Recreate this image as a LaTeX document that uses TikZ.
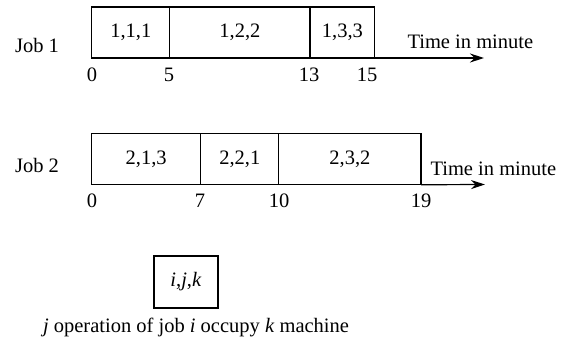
\documentclass[tikz,border=0pt]{standalone}
\usepackage{fontspec}
\setmainfont{Liberation Serif}
\usetikzlibrary{arrows.meta}
\begin{document}
\begin{tikzpicture}[x=1pt,y=-1pt,
  every node/.style={font=\fontsize{20.5}{24}\selectfont},
  cell/.style={draw,line width=1.2pt,rectangle,inner sep=0pt,outer sep=0pt,minimum height=51pt},
  tick/.style={anchor=center},
  axis/.style={line width=1.2pt,-{Stealth[length=14pt,width=9pt]}}]
\useasboundingbox (0,0) rectangle (565,340);
% Job 1 schedule
\node[anchor=base] (job1) at (37,52) {Job 1};
\node[cell,minimum width=78.1pt]  (c11) at (130.75,32.5) {1,1,1};
\node[cell,minimum width=140.2pt] (c12) at (239.9,32.5) {1,2,2};
\node[cell,minimum width=64.8pt]  (c13) at (342.4,32.5) {1,3,3};
\coordinate (e1) at (484,58);
\draw[axis] (c13.south east) -- (e1);
\node[anchor=base west] (t1) at (404,48) {Time in minute};
\node[tick] (n10) at (92,75) {0};
\node[tick] (n15) at (169,75) {5};
\node[tick] (n113) at (309,75) {13};
\node[tick] (n115) at (367,75) {15};
% Job 2 schedule
\node[anchor=base] (job2) at (37,172) {Job 2};
\node[cell,minimum width=109pt]   (c21) at (146.2,159.25) {2,1,3};
\node[cell,minimum width=78.1pt]  (c22) at (239.75,159.25) {2,2,1};
\node[cell,minimum width=142.2pt] (c23) at (349.9,159.25) {2,3,2};
\coordinate (e2) at (485,184.5);
\draw[axis] (c23.south east) -- (e2);
\node[anchor=base west] (t2) at (427,175) {Time in minute};
\node[tick] (n20) at (92,201) {0};
\node[tick] (n27) at (200,201) {7};
\node[tick] (n210) at (279,201) {10};
\node[tick] (n219) at (421,201) {19};
% Legend
\node[cell,minimum width=64pt,minimum height=52pt] (leg) at (186,282) {\textit{i},\textit{j},\textit{k}};
\node[anchor=base] (cap) at (196,332) {\textit{j} operation of job \textit{i} occupy \textit{k} machine};
\end{tikzpicture}
\end{document}
